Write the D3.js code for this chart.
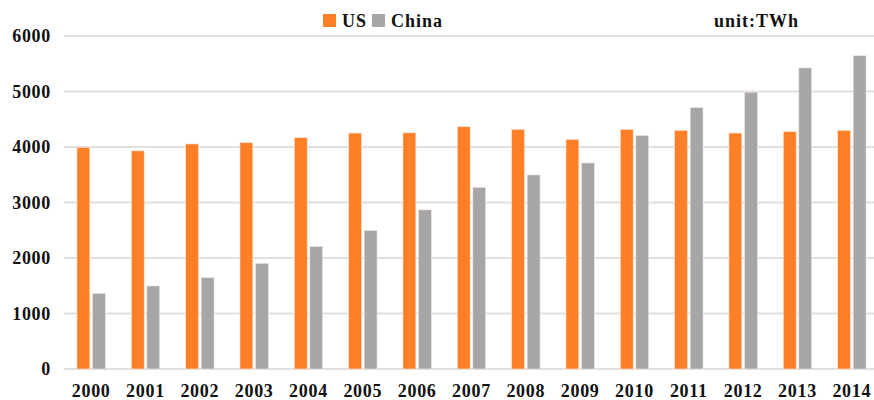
<!DOCTYPE html>
<html>
<head>
<meta charset="utf-8">
<script src="https://cdn.jsdelivr.net/npm/d3@7"></script>
<style>
  body { margin: 0; background: #fff; }
  text { font-family: "Liberation Serif", "Times New Roman", serif; font-weight: bold; fill: #111; }
</style>
</head>
<body>
<div id="chart"></div>
<script>
// years on the x axis
var years = ["2000", "2001", "2002", "2003", "2004", "2005", "2006", "2007",
             "2008", "2009", "2010", "2011", "2012", "2013", "2014"];
// electricity, TWh
var usValues = [3995, 3930, 4055, 4078, 4168, 4252, 4255, 4365, 4318, 4137, 4317, 4299, 4252, 4275, 4299];
var chinaValues = [1362, 1496, 1647, 1904, 2209, 2497, 2868, 3275, 3497, 3713, 4209, 4712, 4988, 5425, 5646];
var seriesNames = ["US", "China"];
var yTicks = [0, 1000, 2000, 3000, 4000, 5000, 6000];

var width = 874, height = 400;
var colors = {"US": "#FF7F27", "China": "#A6A6A6"};

var svg = d3.select("#chart").append("svg")
    .attr("width", width)
    .attr("height", height);

var x = d3.scaleBand()
    .domain(years)
    .range([64, 879])
    .paddingInner(0.477)
    .paddingOuter(0.2385);

var x1 = d3.scaleBand()
    .domain(seriesNames)
    .range([0, x.bandwidth()])
    .paddingInner(0.17);

var y = d3.scaleLinear()
    .domain([0, 6000])
    .range([369, 36]);

// gridlines
svg.append("g")
  .selectAll("line")
  .data(yTicks)
  .enter().append("line")
    .attr("x1", 64)
    .attr("x2", 874)
    .attr("y1", function (d) { return y(d); })
    .attr("y2", function (d) { return y(d); })
    .attr("stroke", "#e0e0e0")
    .attr("stroke-width", 2);

// y tick labels
svg.append("g")
  .selectAll("text")
  .data(yTicks)
  .enter().append("text")
    .attr("x", 51)
    .attr("y", function (d) { return y(d); })
    .attr("dy", "0.35em")
    .style("text-anchor", "end")
    .style("font-size", "18px")
    .style("letter-spacing", "0.7px")
    .text(function (d) { return d; });

// bars
var rows = years.map(function (yr, i) {
  return {year: yr, US: usValues[i], China: chinaValues[i]};
});

var groups = svg.append("g")
  .selectAll("g")
  .data(rows)
  .enter().append("g")
    .attr("transform", function (d) { return "translate(" + x(d.year) + ",0)"; });

groups.selectAll("rect")
  .data(function (d) { return seriesNames.map(function (k) { return {key: k, value: d[k]}; }); })
  .enter().append("rect")
    .attr("x", function (d) { return x1(d.key); })
    .attr("width", x1.bandwidth())
    .attr("y", function (d) { return y(d.value); })
    .attr("height", function (d) { return y(0) - y(d.value); })
    .attr("fill", function (d) { return colors[d.key]; })
    .attr("stroke", "#fbe8dc")
    .attr("stroke-width", 0.6);

// x labels
svg.append("g")
  .selectAll("text")
  .data(years)
  .enter().append("text")
    .attr("x", function (d) { return x(d) + x.bandwidth() / 2; })
    .attr("y", 391)
    .attr("dy", "0.35em")
    .style("text-anchor", "middle")
    .style("font-size", "18px")
    .style("letter-spacing", "0.7px")
    .text(function (d) { return d; });

// legend
var legend = svg.append("g");
var legendItems = [{key: "US", x: 323}, {key: "China", x: 372}];
legendItems.forEach(function (item) {
  legend.append("rect")
    .attr("x", item.x)
    .attr("y", 14)
    .attr("width", 13)
    .attr("height", 13)
    .attr("fill", colors[item.key]);
  legend.append("text")
    .attr("x", item.x + 19)
    .attr("y", 21)
    .attr("dy", "0.35em")
    .style("font-size", "18px")
    .style("letter-spacing", "1px")
    .text(item.key);
});

svg.append("text")
  .attr("x", 714)
  .attr("y", 21)
  .attr("dy", "0.35em")
  .style("font-size", "18px")
  .style("letter-spacing", "1px")
  .text("unit:TWh");
</script>
</body>
</html>
